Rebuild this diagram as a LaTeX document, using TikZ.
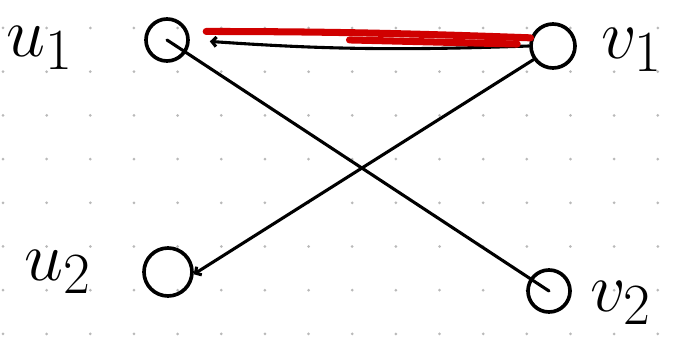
\documentclass[tikz,border=0pt]{standalone}
\usepackage{amsmath}
\usetikzlibrary{arrows.meta, positioning}
\definecolor{inkred}{RGB}{208,0,0}
\definecolor{dotgray}{RGB}{185,185,185}
\newcommand{\biglbl}[1]{\scalebox{2.0}{\Huge$#1$}}

\begin{document}
\begin{tikzpicture}[
  x=0.025cm, y=-0.025cm,
  vert/.style={draw, circle, line width=2.6pt, minimum size=1.05cm, inner sep=0pt},
  lbl/.style={inner sep=0pt},
  edge/.style={line width=2.2pt, line cap=round},
  hl/.style={draw=inkred, line width=5pt, line cap=round},
  >={Straight Barb[length=1.1mm, width=2.4mm]}
]
\useasboundingbox (0,0) rectangle (696,353);
% dot grid
\foreach \i in {0,...,15}
  \foreach \j in {0,...,7}
    \fill[dotgray] (3+43.65*\i, 28+43.7*\j) circle (1.5);

\node[vert] (u1) at (167,40) {};
\node[vert, minimum size=1.1cm] (v1) at (553,46) {};
\node[vert, minimum size=1.2cm] (u2) at (168,272) {};
\node[vert] (v2) at (549,291) {};

\node[lbl, left=1.75cm of u1, yshift=-0.2cm] (u1lbl) {\biglbl{u_1}};
\node[lbl, right=0.6cm of v1, yshift=-0.1cm] (v1lbl) {\biglbl{v_1}};
\node[lbl, left=1.25cm of u2] (u2lbl) {\biglbl{u_2}};
\node[lbl, right=0.45cm of v2, yshift=-0.3cm] (v2lbl) {\biglbl{v_2}};

\draw[edge, ->, shorten >=0.5cm] (v1.west) to[bend left=3] (u1.east);
\draw[hl, shorten <=0.45cm] (u1.22) to[bend left=1] (v1.160);
\draw[hl, shorten <=4cm, shorten >=0.3cm] (u1.10) -- (v1.176);
\draw[edge] (u1.center) -- (v2.center);
\draw[edge, ->] (v1.215) -- (u2.-5);
\end{tikzpicture}
\end{document}
